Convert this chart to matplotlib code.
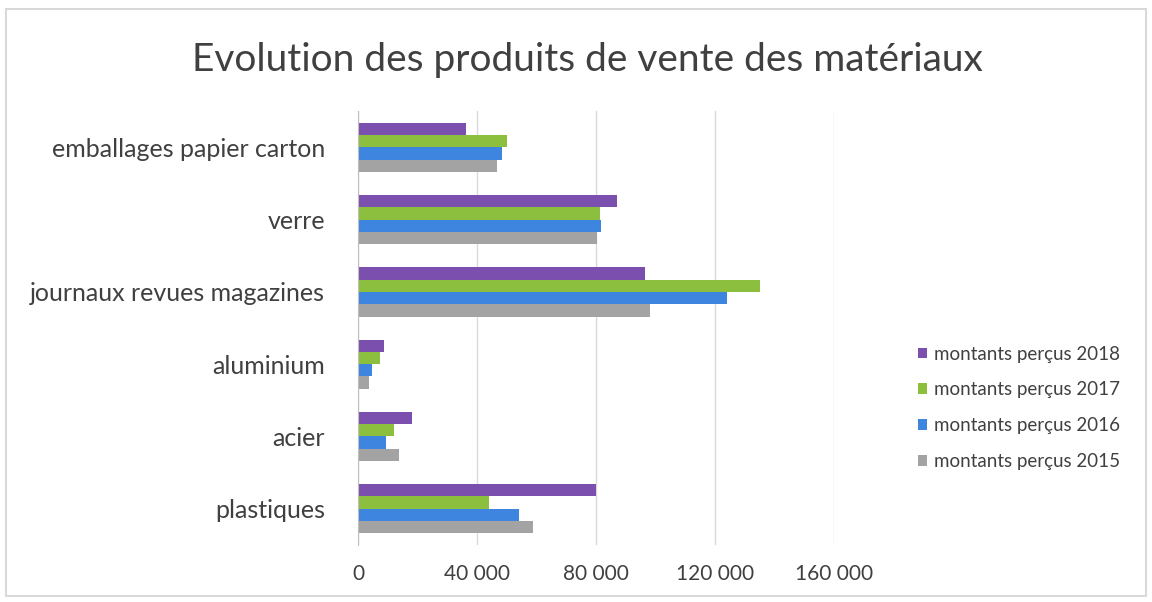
import matplotlib
matplotlib.use("Agg")
import matplotlib.pyplot as plt
import numpy as np
from matplotlib.ticker import FuncFormatter
from matplotlib.patches import Rectangle

plt.rcParams["font.family"] = ["Lato", "DejaVu Sans"]

# categories listed bottom -> top
categories = ["plastiques", "acier", "aluminium", "journaux revues magazines",
              "verre", "emballages papier carton"]
years = ["2018", "2017", "2016", "2015"]
vals_2018 = [80000, 18000, 8700, 96300, 87000, 36200]
vals_2017 = [44000, 12000, 7400, 135000, 81200, 50000]
vals_2016 = [54000, 9400, 4700, 124000, 81500, 48300]
vals_2015 = [58700, 13800, 3700, 98000, 80200, 46600]
series = [vals_2018, vals_2017, vals_2016, vals_2015]
colors = ["#7B4FAE", "#8DBF3F", "#3D85DE", "#A3A3A3"]

fig = plt.figure(figsize=(11.52, 6.02), dpi=100)
ax = fig.add_axes([0.311, 0.095, 0.413, 0.72])

y = np.arange(len(categories))
h = 0.17
offsets = [1.5 * h, 0.5 * h, -0.5 * h, -1.5 * h]
for vals, off, col, yr in zip(series, offsets, colors, years):
    ax.barh(y + off, vals, height=h, color=col, label=f"montants perçus {yr}")

ax.set_xlim(0, 160000)
ax.set_ylim(-0.5, len(categories) - 0.5)
ax.set_xticks([0, 40000, 80000, 120000, 160000])
ax.xaxis.set_major_formatter(FuncFormatter(lambda v, p: f"{int(v):,}".replace(",", " ")))
ax.set_yticks(y)
ax.set_yticklabels(categories)
ax.tick_params(axis="y", length=0, labelsize=18, colors="#404040", pad=24)
ax.tick_params(axis="x", length=0, labelsize=15, colors="#404040", pad=14)
ax.grid(True, axis="x", color="#D9D9D9", linewidth=1)
ax.set_axisbelow(True)
for s in ["top", "right", "bottom"]:
    ax.spines[s].set_visible(False)
ax.spines["left"].set_color("#BFBFBF")

fig.suptitle("Evolution des produits de vente des matériaux", x=0.51, y=0.93,
             fontsize=28, color="#404040")

leg = ax.legend(loc="center left", bbox_to_anchor=(1.14, 0.316), frameon=False,
                fontsize=13.5, labelcolor="#404040", handlelength=0.5,
                handleheight=0.5, handletextpad=0.4, labelspacing=1.0)

fig.patches.append(Rectangle((0.005, 0.01), 0.99, 0.975, transform=fig.transFigure,
                             fill=False, edgecolor="#D9D9D9", linewidth=1.5))

fig.savefig("out.png", dpi=100)
